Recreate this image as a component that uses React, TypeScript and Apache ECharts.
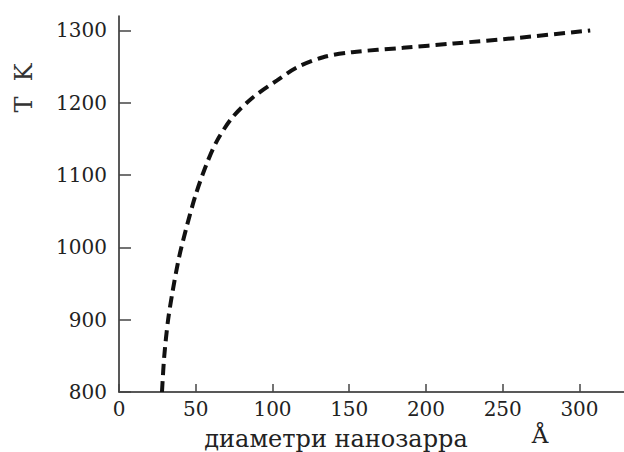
import React, { useEffect, useRef } from "react";
import * as echarts from "echarts";

const diameters = [28, 29.5, 32, 35, 39, 44, 50, 57, 64, 74, 87, 103, 116, 133, 152, 185, 218, 261, 307];
const temperatures = [800, 850, 900, 940, 985, 1028, 1073, 1115, 1148, 1180, 1207, 1231, 1249, 1263, 1270, 1276, 1282, 1290, 1300];
const xTicks = [0, 50, 100, 150, 200, 250, 300];
const yTicks = [800, 900, 1000, 1100, 1200, 1300];
const xTitle = "диаметри нанозарра";
const xUnit = "Å";
const yTitle = "T  K";

export default function App() {
  const ref = useRef<HTMLDivElement>(null);
  useEffect(() => {
    if (!ref.current) return;
    const chart = echarts.init(ref.current, null, { renderer: "svg" });
    const font = "DejaVu Serif";
    chart.setOption({
      animation: false,
      backgroundColor: "#ffffff",
      grid: { left: 119, top: 16, width: 505, bottom: 60 },
      xAxis: {
        type: "value",
        min: 0,
        max: 329,
        axisLine: { show: true, lineStyle: { color: "#222", width: 1.5 } },
        axisTick: { show: true, inside: true, length: 8, customValues: xTicks, lineStyle: { color: "#444", width: 1.5 } },
        axisLabel: {
          customValues: xTicks,
          formatter: (v: number) => String(v),
          color: "#222",
          fontFamily: font,
          fontSize: 20,
          margin: 7,
        },
        splitLine: { show: false },
      },
      yAxis: {
        type: "value",
        min: 800,
        max: 1320,
        axisLine: { show: true, lineStyle: { color: "#222", width: 1.5 } },
        axisTick: { show: true, inside: true, length: 12, customValues: yTicks, lineStyle: { color: "#444", width: 1.5 } },
        axisLabel: {
          customValues: yTicks,
          formatter: (v: number) => String(v),
          color: "#222",
          fontFamily: font,
          fontSize: 20,
          margin: 12,
        },
        splitLine: { show: false },
      },
      series: [
        {
          type: "line",
          data: diameters.map((d, i) => [d, temperatures[i]]),
          smooth: 0.3,
          showSymbol: false,
          symbol: "none",
          lineStyle: { color: "#111", width: 4, type: [11, 6] },
        },
      ],
      graphic: [
        {
          type: "text",
          x: 336,
          y: 427,
          style: { text: xTitle, font: `24px "${font}"`, fill: "#222", align: "center", verticalAlign: "top" },
        },
        {
          type: "text",
          x: 540,
          y: 423,
          style: { text: xUnit, font: `23px "${font}"`, fill: "#222", align: "center", verticalAlign: "top" },
        },
        {
          type: "text",
          x: 24,
          y: 88,
          rotation: Math.PI / 2,
          style: { text: yTitle, font: `24px "${font}"`, fill: "#333", align: "center", verticalAlign: "middle" },
        },
      ],
    });
    return () => chart.dispose();
  }, []);
  return <div ref={ref} style={{ width: 624, height: 452, position: "absolute", left: 0, top: 0 }} />;
}
